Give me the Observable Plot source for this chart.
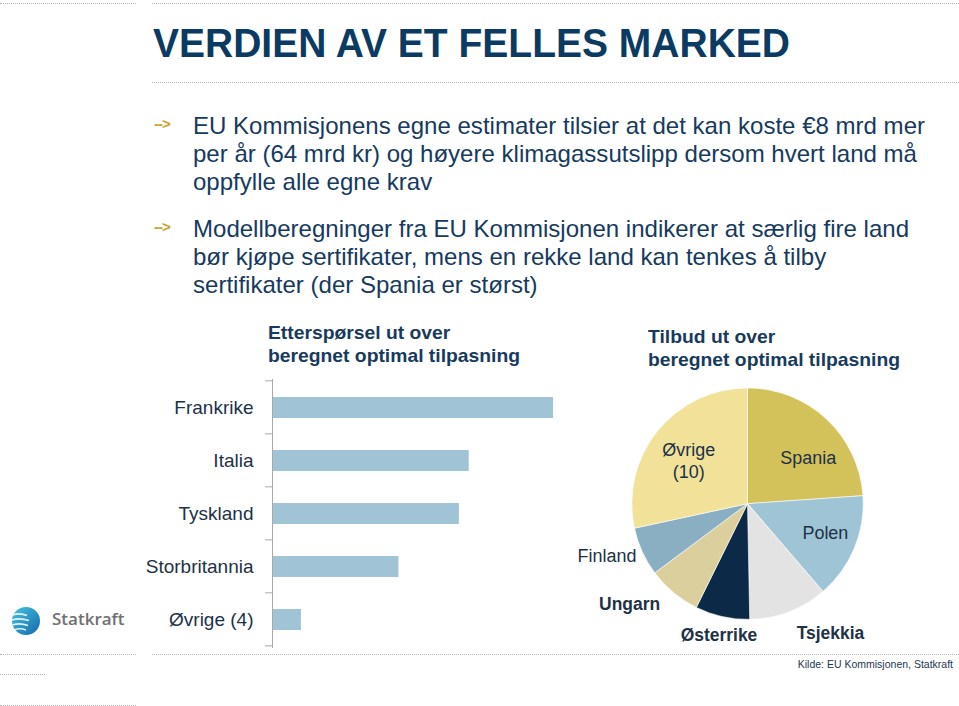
<!DOCTYPE html>
<html><head><meta charset="utf-8">
<script src="https://cdn.jsdelivr.net/npm/d3@7"></script>
<script src="https://cdn.jsdelivr.net/npm/@observablehq/plot@0.6"></script>
<style>
body{margin:0;width:959px;height:706px;position:relative;overflow:hidden;background:#fff;font-family:"Liberation Sans",Arial,sans-serif;}
.abs{position:absolute;white-space:nowrap;}
.dot{position:absolute;height:0;border-top:1px dotted #b5b5b5;}
#title{left:153px;top:23px;font-size:40px;line-height:40px;font-weight:bold;color:#0b3a63;transform-origin:0 0;}
.bul{left:193px;font-size:24px;line-height:28px;color:#163a5f;transform-origin:0 0;}
.arr{left:154px;font-size:15px;line-height:16px;font-weight:bold;color:#c9a227;letter-spacing:-1px;}
.sub{font-size:18.5px;line-height:23px;font-weight:bold;color:#173a5e;transform-origin:0 0;}
#src{right:6px;top:658px;font-size:10.5px;line-height:12px;color:#23384f;}
#logoText{left:52px;top:607px;font-family:"Open Sans",sans-serif;font-size:17px;line-height:24px;font-weight:600;color:#6f7072;}
.chart{position:absolute;}
</style></head>
<body>
<div class="dot" style="left:0;top:3px;width:136px"></div>
<div class="dot" style="left:152px;top:3px;width:807px"></div>
<div class="dot" style="left:152px;top:82px;width:807px"></div>
<div class="dot" style="left:0;top:654px;width:136px"></div>
<div class="dot" style="left:152px;top:654px;width:807px"></div>
<div class="dot" style="left:0;top:674px;width:45px"></div>
<div class="dot" style="left:0;top:705px;width:136px"></div>

<div id="title" class="abs">VERDIEN AV ET FELLES MARKED</div>

<div class="abs arr" style="top:116px">--&gt;</div>
<div class="abs arr" style="top:219px">--&gt;</div>
<div id="b1" class="abs bul" style="top:112px"><span id="b1l1">EU Kommisjonens egne estimater tilsier at det kan koste €8 mrd mer</span><br>per år (64 mrd kr) og høyere klimagassutslipp dersom hvert land må<br>oppfylle alle egne krav</div>
<div id="b2" class="abs bul" style="top:215px">Modellberegninger fra EU Kommisjonen indikerer at særlig fire land<br>bør kjøpe sertifikater, mens en rekke land kan tenkes å tilby<br>sertifikater (der Spania er størst)</div>

<div id="s1" class="abs sub" style="left:268px;top:321px"><span id="s1w">beregnet optimal tilpasning</span></div>
<div id="s2" class="abs sub" style="left:648px;top:325px"></div>

<div id="barChart" class="chart" style="left:140px;top:370px"></div>
<div id="pieChart" class="chart" style="left:560px;top:370px"></div>

<svg style="position:absolute;left:10px;top:605px" width="34" height="34" viewBox="0 0 34 34">
 <defs><linearGradient id="lg" x1="0" y1="0" x2="1" y2="1"><stop offset="0" stop-color="#44c6dd"/><stop offset="1" stop-color="#1767ae"/></linearGradient></defs>
 <circle cx="16" cy="16" r="14" fill="url(#lg)"/>
 <path d="M2.5,10 Q10,7.5 17,10.5" stroke="#fff" stroke-width="1.6" fill="none" opacity="0.85"/>
 <path d="M2,15 Q10,12.5 19,15.5" stroke="#fff" stroke-width="1.6" fill="none" opacity="0.85"/>
 <path d="M2.3,20 Q10,17.5 18,20.5" stroke="#fff" stroke-width="1.6" fill="none" opacity="0.85"/>
 <path d="M4,25 Q10,22.5 16,25" stroke="#fff" stroke-width="1.4" fill="none" opacity="0.85"/>
</svg>
<div id="logoText" class="abs">Statkraft</div>
<div id="src" class="abs">Kilde: EU Kommisjonen, Statkraft</div>

<script>
// ---- Data ----
const barCountries = ["Frankrike", "Italia", "Tyskland", "Storbritannia", "Øvrige (4)"];
const barValues = [100, 70, 66.5, 45, 10.3];

const pieCountries = ["Spania", "Polen", "Tsjekkia", "Østerrike", "Ungarn", "Finland", "Øvrige (10)"];
const pieValues = [23.9, 14.8, 11.0, 7.6, 7.5, 6.8, 28.4];
const pieLabels = ["Spania", "Polen", "Tsjekkia", "Østerrike", "Ungarn", "Finland", "Øvrige\n(10)"];

const subtitleLeft = "Etterspørsel ut over\nberegnet optimal tilpasning";
const subtitleRight = "Tilbud ut over\nberegnet optimal tilpasning";

// ---- Styles / layout ----
const pieColors = ["#d3c15a", "#9fc4d5", "#e3e3e3", "#0c2a48", "#dacf9d", "#8aaec2", "#f2e199"];
// k: label distance (in radii), da: angle shift (degrees) from slice mid-angle
const pieLabelLayout = [
  {k: 0.66, da: 9, anchor: "middle", weight: "normal"},
  {k: 0.71, da: -3, anchor: "middle", weight: "normal"},
  {k: 1.18, da: 0, anchor: "start", weight: "bold"},
  {k: 1.15, da: 0, anchor: "middle", weight: "bold"},
  {k: 1.14, da: 2, anchor: "end", weight: "bold"},
  {k: 1.06, da: 0, anchor: "end", weight: "normal"},
  {k: 0.64, da: -2, anchor: "middle", weight: "normal"}
];
const BAR_PAD_INNER = 0.61;
const textColor = "#1d3148";
const font = "'Liberation Sans', Arial, sans-serif";

// ---- Text fitting ----
function fit(el, measureEl, target) {
  const w = measureEl.getBoundingClientRect().width;
  el.style.transform = `scaleX(${target / w})`;
}
const title = document.getElementById("title");
fit(title, title, 637);
const b1 = document.getElementById("b1"), b2 = document.getElementById("b2");
const bw1 = document.getElementById("b1l1").getBoundingClientRect().width;
b1.style.transform = b2.style.transform = `scaleX(${732 / bw1})`;

const s1 = document.getElementById("s1"), s2 = document.getElementById("s2");
const sw = document.getElementById("s1w").getBoundingClientRect().width;
s1.innerHTML = subtitleLeft.replace("\n", "<br>");
s2.innerHTML = subtitleRight.replace("\n", "<br>");
s1.style.transform = s2.style.transform = `scaleX(${252 / sw})`;

// ---- Bar chart ----
const barData = barCountries.map((c, i) => ({country: c, value: barValues[i]}));

function bandTicks(index, scales) {
  const y = scales.y, x0 = scales.x(0);
  const ys = barCountries.map(c => y(c));
  const step = ys[1] - ys[0];
  const off = step * BAR_PAD_INNER / 2;
  const bw = step * (1 - BAR_PAD_INNER);
  const pos = ys.map(v => v - off).concat([ys[ys.length - 1] + bw + off]);
  const g = d3.create("svg:g");
  g.selectAll("line").data(pos).join("line")
    .attr("x1", x0 - 7).attr("x2", x0).attr("y1", d => d).attr("y2", d => d)
    .attr("stroke", "#a9a9a9");
  return g.node();
}

const barPlot = Plot.plot({
  width: 440, height: 290,
  marginLeft: 132, marginRight: 27, marginTop: 9, marginBottom: 12,
  x: {domain: [0, 100], axis: null},
  y: {domain: barCountries, paddingInner: BAR_PAD_INNER, paddingOuter: BAR_PAD_INNER / 2, label: null, tickSize: 0, tickPadding: 19},
  style: {fontFamily: font, fontSize: "19px", color: textColor, background: "transparent", overflow: "visible"},
  marks: [
    Plot.barX(barData, {x: "value", y: "country", fill: "#a0c4d6"}),
    Plot.ruleX([0], {stroke: "#a9a9a9"}),
    bandTicks
  ]
});
document.getElementById("barChart").appendChild(barPlot);

// ---- Pie chart ----
const pieData = pieCountries.map((c, i) => ({country: c, value: pieValues[i], label: pieLabels[i]}));
const arcs = d3.pie().sort(null).value(d => d.value)(pieData);
const labelData = arcs.map((a, i) => {
  const L = pieLabelLayout[i];
  const mid = (a.startAngle + a.endAngle) / 2 + L.da * Math.PI / 180;
  return {label: a.data.label, x: L.k * Math.sin(mid), y: L.k * Math.cos(mid), anchor: L.anchor, weight: L.weight};
});

function pieRender(index, scales, values) {
  const cx = scales.x(0), cy = scales.y(0), r = scales.x(1) - scales.x(0);
  const arc = d3.arc().innerRadius(0).outerRadius(r);
  const g = d3.create("svg:g").attr("transform", `translate(${cx},${cy})`);
  g.selectAll("path").data(arcs).join("path")
    .attr("d", arc)
    .attr("fill", (d, i) => values.fill ? values.fill[i] : scales.color(d.data.country))
    .attr("stroke", "#ffffff").attr("stroke-width", 0.6);
  return g.node();
}

const pieMarks = [
  Plot.dot(pieData, {x: () => 0, y: () => 0, fill: "country", render: pieRender})
];
for (const anchor of ["start", "middle", "end"]) {
  for (const weight of ["normal", "bold"]) {
    const sub = labelData.filter(d => d.anchor === anchor && d.weight === weight);
    if (sub.length) pieMarks.push(Plot.text(sub, {
      x: "x", y: "y", text: "label", textAnchor: anchor, fontWeight: weight,
      fontSize: weight === "bold" ? 17.5 : 18, fill: textColor, lineHeight: 1.25
    }));
  }
}

const piePlot = Plot.plot({
  width: 400, height: 290,
  marginLeft: 72, marginRight: 96, marginTop: 18, marginBottom: 40,
  x: {domain: [-1, 1], axis: null},
  y: {domain: [-1, 1], axis: null},
  color: {domain: pieCountries, range: pieColors},
  style: {fontFamily: font, fontSize: "18px", color: textColor, background: "transparent", overflow: "visible"},
  marks: pieMarks
});
document.getElementById("pieChart").appendChild(piePlot);
</script>
</body></html>
